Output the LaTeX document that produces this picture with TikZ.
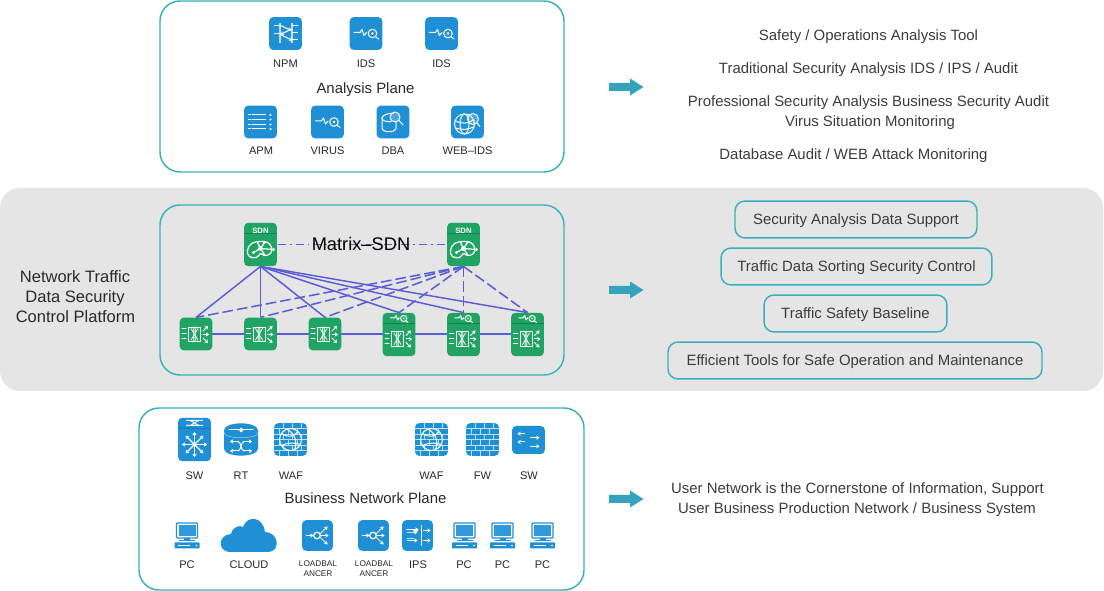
\documentclass[tikz,border=0pt]{standalone}
\usepackage{fontspec}
\setmainfont{Liberation Sans}
\usetikzlibrary{arrows.meta}
\definecolor{teal1}{HTML}{3AB0BC}
\definecolor{tealarrow}{HTML}{36A3BC}
\definecolor{band}{HTML}{E5E5E5}
\definecolor{bl}{HTML}{1F8FD6}
\definecolor{gr}{HTML}{20A464}
\definecolor{grd}{HTML}{178050}
\definecolor{bld}{HTML}{1878B8}
\definecolor{lnk}{HTML}{5C5CD8}
\definecolor{txt}{HTML}{2A2A2A}
\definecolor{txtb}{HTML}{3C3C3C}
\pgfdeclarelayer{bgl}\pgfdeclarelayer{lnl}\pgfsetlayers{bgl,lnl,main}
\newcommand{\fnt}[1]{\fontsize{#1}{#1}\selectfont}
\tikzset{
 x=0.75pt,y=-0.75pt,
 capc/.style={text height=.8em,text depth=0pt},
 panel/.style={draw=teal1,line width=1.1pt,rounded corners=15pt},
 tagbox/.style={draw=teal1,line width=1.1pt,rounded corners=7.5pt,text=txtb,font=\fnt{11.2pt},anchor=center,inner sep=0pt,capc},
 iconb/.style={fill=bl,rounded corners=3pt,minimum width=24.5pt,minimum height=24.5pt,inner sep=0pt},
 icong/.style={fill=gr,rounded corners=3pt,minimum width=24.5pt,minimum height=24.5pt,inner sep=0pt},
 icongt/.style={fill=gr,rounded corners=3pt,minimum width=24.5pt,minimum height=32.5pt,inner sep=0pt},
 lab/.style={text=txt,font=\fnt{8.3pt},inner sep=0pt,anchor=center,capc},
 labs/.style={text=txt,font=\fnt{6.2pt},inner sep=0pt,anchor=center,capc},
 head/.style={text=txt,font=\fnt{11.2pt},inner sep=0pt,anchor=center,capc},
 desc/.style={text=txtb,font=\fnt{11.2pt},inner sep=0pt,anchor=center,capc},
 ttl/.style={text=txt,font=\fnt{12.4pt},inner sep=0pt,capc},
 gl/.style={draw=white,line width=0.75pt,line cap=round,line join=round},
 gla/.style={gl,-{Stealth[length=2.4pt,width=3.2pt]}},
 brk/.style={draw=white!72!bl,line width=.5pt},
 solidl/.style={draw=lnk,line width=1.1pt},
 dashl/.style={draw=lnk,line width=1.15pt,dash pattern=on 8pt off 3pt},
 dotl/.style={draw=lnk,line width=1.15pt,dash pattern=on 6pt off 3pt on 1.2pt off 3pt},
 idsg/.pic={
  \draw[gl] (-12,-1)--(-6,-1)--(-4,-4)--(-2,2)--(0.5,-1);
  \draw[gl] (6.5,0) circle (4.3);
  \fill[white] (6.5,0) circle (1.3);
  \draw[gl] (9.6,3.2)--(12.5,5.5);
 },
 npmg/.pic={
  \draw[brk,line width=.7pt] (-6.5,-10)--(-6.5,10) (-5,-10)--(-5,10) (5.5,-10)--(5.5,10) (7,-10)--(7,10);
  \draw[gl] (-11,-8)--(-7,-8) (-11,0)--(-7,0) (7,-8)--(12,-8) (7,6)--(12,6) (7,-1)--(12,-1);
  \draw[gla] (-5,-8)--(6,-3);
  \draw[gla] (5,-4)--(-5,1);
  \draw[gla] (-5,1)--(7,7);
 },
 apmg/.pic={
  \foreach \r in {-7,-2.5,2.5,7}{
   \draw[gl] (-12,\r)--(-10,\r);
   \draw[gl] (-8.5,\r)--(5,\r);
   \fill[white] (10,\r) circle (1.2);
  }
 },
 dbag/.pic={
  \draw[gl] (-11,-4)--(-11,6) .. controls (-11,11) and (3,11) .. (3,6) -- (3,0);
  \draw[gl] (-11,-4) .. controls (-11,-8) and (-1,-9) .. (0,-8.5);
  \draw[gl] (-11,-4) .. controls (-11,-1) and (-6,0) .. (-2,-0.5);
  \fill[white,opacity=.2] (2,-5) circle (5);
  \draw[gl] (2,-5) circle (5);
  \draw[gl] (5.8,-1.6)--(10,3);
 },
 webg/.pic={
  \draw[gl] (-3,2) circle (10);
  \draw[gl] (-3,2) ellipse (4.5 and 10);
  \draw[gl] (-12,-1) .. controls (-6,2) and (0,2) .. (6,-2);
  \draw[gl] (-12,6) .. controls (-6,8) and (0,8) .. (6,5);
  \fill[white,opacity=.2] (5.5,-3) circle (5.5);
  \draw[gl] (5.5,-3) circle (5.5);
  \draw[gl] (9.5,1)--(12.5,4.5);
 },
 swg/.pic={
  \draw[gl] (-14,-5)--(-10,-5) (-14,0)--(-10,0) (-14,5)--(-10,5);
  \draw[gl,line width=.55pt] (-7.5,-7) rectangle (4.5,7.5);
  \draw[gl,line width=.55pt] (-5,-5.5)--(2,6) (2,-5.5)--(-5,6) (-2.2,-7)--(-2.2,7.5) (-0.8,-7)--(-0.8,7.5);
  \draw[gla] (7,-3)--(12,-8);
  \draw[gla] (7,0.5)--(13,0.5);
  \draw[gla] (7,4)--(12,9);
 },
 sdng/.pic={
  \draw[gl,line width=.9pt] plot[smooth cycle,tension=.7] coordinates {(-13,6)(-9,-1)(0,-3)(7,-2)(11,3)(10,9)(4,11)(0,9)(-4,13)(-11,12)};
  \draw[gl,line width=.9pt] (0,4)--(13,5) (0,4)--(-7,8) (0,4)--(4,-2) (0,4)--(4,10) (0,4)--(-3,-2);
  \fill[white] (0,4) circle (2.4) (13,5) circle (1.7) (-7,8) circle (1.7) (4,-2) circle (1.3);
 },
 brickg/.pic={
  \foreach \r in {-11,-5.5,0,5.5,11}{\draw[brk] (-16.5,\r)--(16.5,\r);}
  \foreach \c in {-7,2,11}{
   \draw[brk] (\c,-16.5)--(\c,-11) (\c,-5.5)--(\c,0) (\c,5.5)--(\c,11);
  }
  \foreach \c in {-11.5,-2.5,6.5}{
   \draw[brk] (\c,-11)--(\c,-5.5) (\c,0)--(\c,5.5) (\c,11)--(\c,16.5);
  }
 },
 globeg/.pic={
  \draw[gl,line width=.8pt] (0,0) circle (11);
  \draw[gl] (-3,-10) .. controls (5,-6) and (7,4) .. (4,10);
  \draw[gl] (-9,-6) .. controls (-3,-2) and (3,-2) .. (7,-8);
  \draw[gl] (-9,6) .. controls (-3,3) and (4,3) .. (10,5);
 },
 pcg/.pic={
  \draw[bl,line width=.9pt,rounded corners=.6pt,fill=white] (-10.5,-13)rectangle(10.5,2);
  \fill[bl!92!white] (-8.5,-11)rectangle(8.5,0);
  \fill[bl] (-3,2)rectangle(3,5);
  \fill[bl] (-8,3.6)rectangle(8,4.6);
  \fill[bl,rounded corners=.5pt] (-12.5,6.5)rectangle(12.5,12.5);
  \draw[white,line width=.6pt] (-9,9.5)--(3,9.5);
  \fill[white] (9.5,9.5) circle (.9);
 },
 lbg/.pic={
  \draw[gla,line width=.9pt] (-11,0)--(-4,0);
  \draw[gl,line width=.9pt] (-0.5,0) circle (3.3);
  \draw[gla] (3,-2)--(10,-9);
  \draw[gla] (3,0)--(11,0);
  \draw[gla] (3,2)--(10,9);
 },
 ipsg/.pic={
  \draw[gl] (3.5,-10)--(3.5,10);
  \draw[brk,line width=.6pt] (-11,-3)--(-2,-3) (-11,3)--(-4,3);
  \draw[gla] (-11,-6)--(1,-6);
  \draw[gla] (-10,5)--(0,5);
  \fill[white] (-5,-6)--(1,-6)--(-2,-1)--cycle;
  \draw[gla] (6,-5)--(13,-5);
  \draw[gla] (6,5)--(13,5);
 },
 sw2g/.pic={
  \draw[gla] (-4,-6.3)--(-11,-6.3);
  \draw[gla] (2,-2.3)--(11,-2.3);
  \draw[gla] (-4,2)--(-11,2);
  \draw[gla] (2,6.3)--(11,6.3);
 },
 bigsw/.pic={
  \foreach \a in {0,45,...,315}{\draw[gla,line width=.9pt] (0,0)--(\a:12.5);}
  \fill[white] (0,0) circle (1.9);
 },
 sdntopsw/.pic={
  \draw[gl] (-8,-2.5)--(8,-2.5) (-8,2.5)--(8,2.5) (-4,-2.5)--(4,2.5) (-4,2.5)--(4,-2.5);
 },
 rtg/.pic={
  \fill[bl] (-17,-9) .. controls (-17,-18.5) and (17,-18.5) .. (17,-9) -- (17,9) .. controls (17,18.5) and (-17,18.5) .. (-17,9) -- cycle;
  \draw[white!55!bl,line width=.4pt] (-17,-7) .. controls (-17,0) and (17,0) .. (17,-7);
  \draw[gl] (-12,-9.5)--(12,-9.5);
  \fill[white] (0,-12)--(2.5,-9.5)--(0,-7)--(-2.5,-9.5)--cycle;
  \draw[gla] (-3,2)--(-11,2);
  \draw[gla] (3,2)--(11,2);
  \draw[gla] (-3,11.5)--(-11,11.5);
  \draw[gla] (3,11.5)--(11,11.5);
  \draw[gl] (-3,2)..controls(0,2)and(0,11.5)..(3,11.5) (3,2)..controls(0,2)and(0,11.5)..(-3,11.5);
 },
}
\begin{document}
\begin{tikzpicture}
\useasboundingbox (0,0) rectangle (1104,591);
\begin{pgfonlayer}{bgl}
\fill[white] (0,0) rectangle (1104,591);
\fill[band,rounded corners=15pt] (0,188) rectangle (1103,391);
\end{pgfonlayer}
\draw[panel] (160,1) rectangle (564,172);
\draw[panel] (160,205) rectangle (564,375);
\draw[panel] (139,408) rectangle (584,590);

% Analysis plane
\foreach \n/\x/\y in {npm/285.5/33.5,idsa/366/33.5,idsb/441.5/33.5,apm/260.5/122,virus/327.5/122,dba/393/122,web/467.5/122}{
  \node[iconb] (\n) at (\x,\y) {};
}
\pic at (npm.center) {npmg};
\pic at (idsa.center) {idsg};
\pic at (idsb.center) {idsg};
\pic at (apm.center) {apmg};
\pic at (virus.center) {idsg};
\pic at (dba.center) {dbag};
\pic at (web.center) {webg};
\node[lab] (lnpm) at (285.5,62) {NPM};
\node[lab] (lidsa) at (366,62) {IDS};
\node[lab] (lidsb) at (441.5,62) {IDS};
\node[lab] (lapm) at (261,149) {APM};
\node[lab] (lvirus) at (327.5,149) {VIRUS};
\node[lab] (ldba) at (393,149) {DBA};
\node[lab] (lweb) at (467.5,149) {WEB–IDS};
\node[head] (hana) at (365.5,88.5) {Analysis Plane};

% SDN plane
\foreach \n/\x in {sdna/260.5,sdnb/463.5}{
  \node[fill=gr,rounded corners=3pt,minimum width=24.5pt,minimum height=32.5pt,inner sep=0pt] (\n) at (\x,244.5) {};
  \draw[grd,line width=.5pt] (\x-16.5,233.5)--(\x+16.5,233.5);
  \node[text=white,font=\bfseries\fnt{5.8pt},inner sep=0pt,capc] (\n t) at (\x,228.5) {SDN};
  \pic at (\x,244.5) {sdng};
}
\foreach \n/\x in {swa/196,swb/260.5,swc/325}{
  \node[icong] (\n) at (\x,334) {};
  \pic at (\n.center) {swg};
}
\foreach \n/\x in {swd/399,swe/463.5,swf/527.5}{
  \node[icongt] (\n) at (\x,334.5) {};
  \draw[grd,line width=.5pt] (\x-16,323.5)--(\x+16,323.5);
  \pic[scale=.72] at (\x,318.5) {idsg};
  \pic at (\x,338.5) {swg};
}
\node[text=black,font=\fnt{13.7pt},inner sep=0pt,capc] (matrix) at (361,245) {Matrix–SDN};
\begin{pgfonlayer}{lnl}
\draw[dotl] (sdna.center) -- (sdnb.center);
\foreach \t in {swa,swb,swc,swd,swe,swf}{
  \draw[solidl] (sdna.south) -- (\t.north);
  \draw[dashl] (sdnb.south) -- (\t.north);
}
\draw[solidl] (swa.center) -- (swb.center);
\draw[solidl] (swb.center) -- (swc.center);
\draw[solidl] (swc.center) -- (swd.center |- swc.center);
\draw[solidl] (swd.center |- swc.center) -- (swe.center |- swc.center);
\draw[solidl] (swe.center |- swc.center) -- (swf.center |- swc.center);
\end{pgfonlayer}

% Business plane
\node[fill=bl,rounded corners=3pt,minimum width=24.5pt,minimum height=32.5pt,inner sep=0pt] (sw1) at (194.5,439.5) {};
\draw[bld,line width=.5pt] (178,428)--(211,428);
\pic at (194.5,423) {sdntopsw};
\pic at (194.5,444.5) {bigsw};
\pic at (241,439.5) {rtg};
\foreach \n/\x in {waf1/290.5,waf2/431.5,fw1/482.5}{
  \node[iconb] (\n) at (\x,439.5) {};
  \pic at (\n.center) {brickg};
}
\pic at (waf1.center) {globeg};
\pic at (waf2.center) {globeg};
\node[fill=bl,rounded corners=3pt,minimum width=24.5pt,minimum height=21pt,inner sep=0pt] (sw2) at (528.5,440) {};
\pic at (sw2.center) {sw2g};
\foreach \n/\x/\t in {l1/194.5/SW,l2/241/RT,l3/291/WAF,l4/431.5/WAF,l5/482.5/FW,l6/529/SW}{
  \node[lab] (\n) at (\x,474) {\t};
}
\node[head] (hbus) at (365.5,498.5) {Business Network Plane};
\foreach \n/\x in {pc1/187,pc2/464.5,pc3/502.5,pc4/542.5}{
  \coordinate (\n) at (\x,536);
  \pic at (\n) {pcg};
}
\fill[bl] (230,552) .. controls (218,552) and (217,535) .. (231,534)
 .. controls (233,526) and (240,525) .. (243,527)
 .. controls (247,515) and (263,516) .. (265,532)
 .. controls (279,532) and (281,552) .. (268,552) -- cycle;
\node[fill=bl,rounded corners=3pt,minimum width=23pt,minimum height=23pt,inner sep=0pt] (lb1) at (317.5,535.5) {};
\node[fill=bl,rounded corners=3pt,minimum width=23pt,minimum height=23pt,inner sep=0pt] (lb2) at (373.5,535.5) {};
\node[fill=bl,rounded corners=3pt,minimum width=23pt,minimum height=23pt,inner sep=0pt] (ips) at (417.5,535.5) {};
\pic at (lb1.center) {lbg};
\pic at (lb2.center) {lbg};
\pic at (ips.center) {ipsg};
\foreach \n/\x/\t in {m1/187/PC,m2/249/CLOUD,m4/418/IPS,m5/464/PC,m6/502.5/PC,m7/542.5/PC}{
  \node[lab] (\n) at (\x,563) {\t};
}
\node[labs] (m3a) at (318,561) {LOADBAL};
\node[labs] (m3b) at (318,571.5) {ANCER};
\node[labs] (m3c) at (374,561) {LOADBAL};
\node[labs] (m3d) at (374,571.5) {ANCER};

% left title
\node[ttl] (t1) at (75,277) {Network Traffic};
\node[ttl] (t2) at (75,297) {Data Security};
\node[ttl] (t3) at (75.5,317) {Control Platform};

% arrows
\foreach \yy in {87,290,499}{
  \fill[tealarrow] (609,\yy-4)--(630,\yy-4)--(630,\yy-8.5)--(643.5,\yy)--(630,\yy+8.5)--(630,\yy+4)--(609,\yy+4)--cycle;
}

% right text
\node[desc] (d1) at (868.5,35) {Safety / Operations Analysis Tool};
\node[desc] (d2) at (868.5,68) {Traditional Security Analysis IDS / IPS / Audit};
\node[desc] (d3) at (868.5,101) {Professional Security Analysis Business Security Audit};
\node[desc] (d4) at (870,121) {Virus Situation Monitoring};
\node[desc] (d5) at (853.5,154) {Database Audit / WEB Attack Monitoring};
\node[tagbox,minimum width=181.5pt,minimum height=27.7pt] (b1) at (856,219.5) {Security Analysis Data Support};
\node[tagbox,minimum width=203.2pt,minimum height=27.7pt] (b2) at (856.5,266.5) {Traffic Data Sorting Security Control};
\node[tagbox,minimum width=137.2pt,minimum height=27.7pt] (b3) at (855.5,313.5) {Traffic Safety Baseline};
\node[tagbox,minimum width=280.5pt,minimum height=27.7pt] (b4) at (855,360.5) {Efficient Tools for Safe Operation and Maintenance};
\node[desc] (d6) at (857.5,488) {User Network is the Cornerstone of Information, Support};
\node[desc] (d7) at (857,508) {User Business Production Network / Business System};
\end{tikzpicture}
\end{document}
